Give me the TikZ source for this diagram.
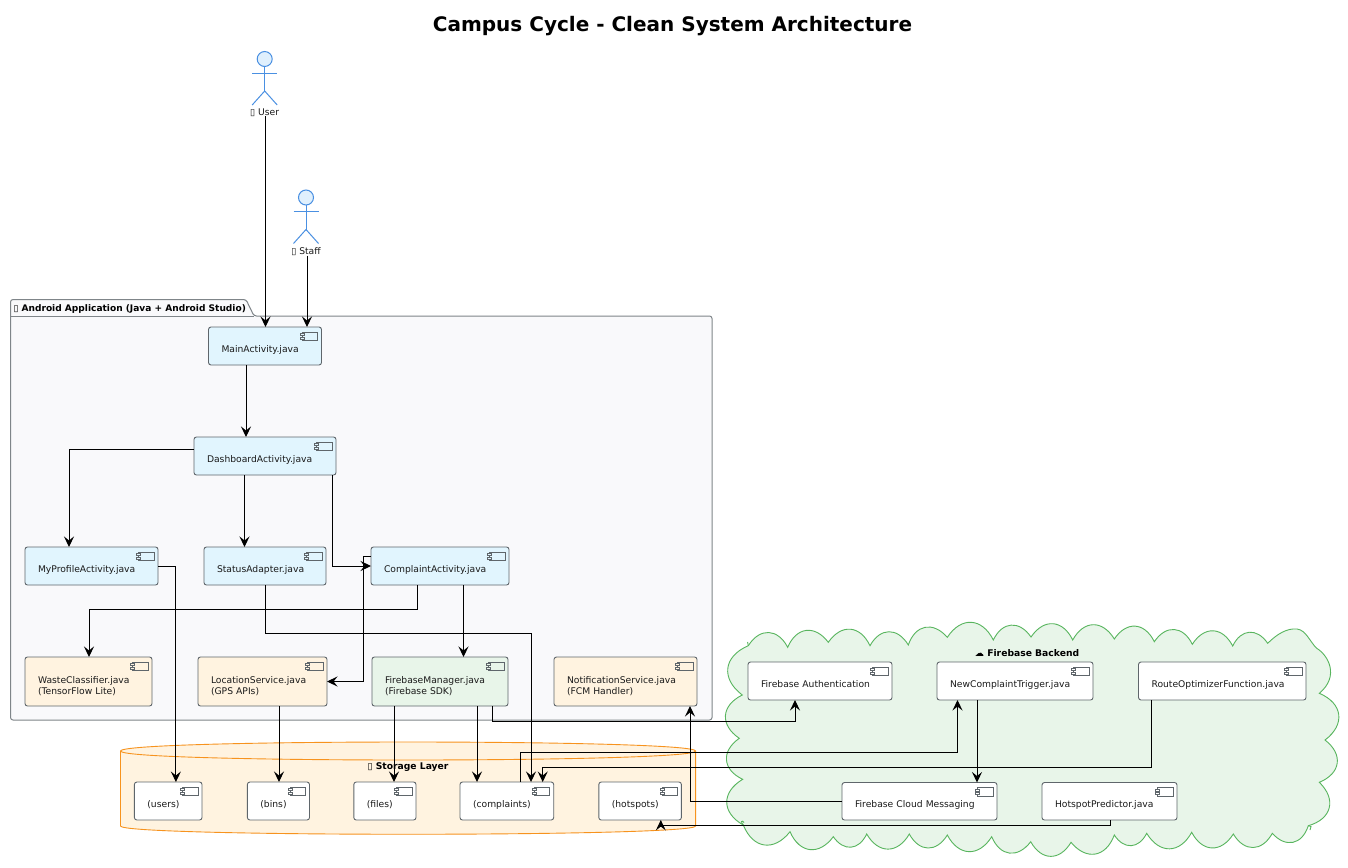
\documentclass[tikz,border=0pt]{standalone}
\usepackage{fontspec}
\setmainfont{DejaVu Sans}
\usetikzlibrary{arrows.meta,calc}
\definecolor{cblue}{HTML}{E1F5FE}
\definecolor{corange}{HTML}{FFF3E0}
\definecolor{cgreen}{HTML}{E8F5E9}
\definecolor{cpack}{HTML}{F9F9FB}
\definecolor{cedge}{HTML}{5F666B}
\definecolor{cactor}{HTML}{4A90E2}
\definecolor{cactorf}{HTML}{E0F0FD}
\definecolor{cstore}{HTML}{F7931E}
\definecolor{ccloud}{HTML}{58B55E}
\definecolor{ctext}{HTML}{1A1A1A}
\tikzset{
  comp/.style={draw=cedge,line width=.9pt,rounded corners=2.5pt,inner xsep=13pt,inner ysep=0pt,outer sep=0pt,
    align=left,text=ctext,font=\fontsize{9.2}{11}\selectfont},
  iconline/.style={draw=cedge,line width=.8pt},
  conn/.style={draw=black,line width=1pt,-{Stealth[length=10.5pt,width=10pt,inset=4pt]}},
  actorline/.style={draw=cactor,line width=1pt},
  lbl/.style={inner sep=0pt,outer sep=0pt,text=ctext,font=\fontsize{9.2}{11}\selectfont},
  blbl/.style={inner sep=0pt,outer sep=0pt,text=black,font=\fontsize{9.2}{11}\selectfont\bfseries},
  cloudline/.style={draw=ccloud,line width=.9pt},
  bump/.style={bend left=60,looseness=1.4}
}
% name, x1, y1, x2, y2, fill, first-line height, text
\newcommand{\comp}[8]{%
  \pgfmathsetmacro{\cw}{#4-#2}\pgfmathsetmacro{\ch}{#5-#3}%
  \pgfmathsetmacro{\cx}{(#2+#4)/2}\pgfmathsetmacro{\cy}{(#3+#5)/2}%
  \pgfmathsetmacro{\ct}{#4-#2-26}%
  \node[comp,fill=#6,minimum width=\cw pt,minimum height=\ch pt,text width=\ct pt] (#1) at (\cx,\cy) {\rule{0pt}{#7pt}#8\rule[-2.3pt]{0pt}{2.3pt}};
  \draw[iconline] ([xshift=-4pt,yshift=-5pt]#1.north east) rectangle ++(-15.5,8.6);
  \draw[iconline,fill=#6] ([xshift=-21.5pt,yshift=-6.5pt]#1.north east) rectangle ++(4,2.2);
  \draw[iconline,fill=#6] ([xshift=-21.5pt,yshift=-10pt]#1.north east) rectangle ++(4,2.2);
}
\newcommand{\actor}[2]{% x, head y
  \draw[actorline,fill=cactorf] (#1,#2) circle (7.5);
  \draw[actorline] (#1,#2+7.5) -- (#1,#2+32);
  \draw[actorline] (#1-12.5,#2+14) -- (#1+12.5,#2+14);
  \draw[actorline] (#1-12.5,#2+46) -- (#1,#2+32) -- (#1+12.5,#2+46);
}
\begin{document}
\begin{tikzpicture}[x=1pt,y=-1pt]
\useasboundingbox (0,0) rectangle (1348,867);
\fill[white] (0,0) rectangle (1348,867);
\node[inner sep=0pt,font=\fontsize{20}{24}\selectfont\bfseries] (title) at (672.5,26.5) {Campus Cycle - Clean System Architecture};

% actors
\actor{264.7}{59}
\node[lbl] (user) at (264.7,112.5) {▯ User};
\actor{306}{197.5}
\node[lbl] (staff) at (306,251.5) {▯ Staff};

% package
\draw[draw=cedge!80,line width=1pt,fill=cpack,rounded corners=2.5pt]
  (10.5,720) -- (10.5,299.5) -- (246,299.5) -- (254,316) -- (712,316) -- (712,720) -- cycle;
\draw[draw=cedge!80,line width=1pt] (10.5,316) -- (254,316);
\node[blbl,anchor=west,font=\fontsize{9.05}{11}\selectfont\bfseries] (packlabel) at (13.5,308.5) {▯ Android Application (Java + Android Studio)};

% storage
\draw[draw=cstore,line width=.9pt,fill=corange]
  (120.5,751) .. controls (120.5,739) and (695.6,739) .. (695.6,751)
  -- (695.6,826) .. controls (695.6,837) and (120.5,837) .. (120.5,826) -- cycle;
\draw[draw=cstore,line width=.9pt] (120.5,751) .. controls (120.5,763) and (695.6,763) .. (695.6,751);
\node[blbl] (storelabel) at (408,767.5) {▯ Storage Layer};

% cloud
\draw[cloudline,fill=cgreen]
  (748.3,645.7) to[bump] (787.7,647.3) to[bump] (828.3,642.3) to[bump] (870,645.7) to[bump] (908.3,645)
  to[bump] (947.3,637.3) to[bump] (993.3,640) to[bump] (1031,637) to[bump] (1072.7,640)
  to[bump] (1114.3,639) to[bump] (1154.3,641.7) to[bump] (1192.3,644.3) to[bump] (1232.7,646)
  to[bump] (1267.7,643.3) .. controls (1277,634) and (1287,628) .. (1297,629)
  .. controls (1306,630) and (1310,642) .. (1316.7,648.3)
  .. controls (1328,655) and (1340,676) .. (1319.3,693.3)
  to[bump] (1325,740) to[bump] (1319.3,782.3)
  to[bump] (1308.3,825.7) to[bump] (1272.3,833.3) to[bump] (1233.3,834) to[bump] (1191.7,832.3)
  to[bump] (1146.7,833.3) to[bump] (1114.3,835) to[bump] (1071,842.3) to[bump] (1030.7,841.7)
  to[bump] (991.7,836.7) to[bump] (947.3,835) to[bump] (909.3,834) to[bump] (866.7,834)
  to[bump] (833.3,836.7) to[bump] (790,831.7) to[bump] (743.3,825)
  to[bump] (742.7,779.3) to[bump] (739.3,738.3) to[bump] (742.3,695) to[bump] (748.3,645.7) -- cycle;
\draw[cloudline] (748.3,645.7) -- (747.6,642);
\draw[cloudline] (743.3,825) .. controls (740,822) and (742,819.5) .. (744,822.5);
\draw[cloudline] (1308.3,825.7) -- (1311,826.5) -- (1310,830);
\node[blbl] (cloudlabel) at (1027,653) {☁ Firebase Backend};

% android components
\comp{main}{208.5}{327}{321.5}{365}{cblue}{14.3}{MainActivity.java}
\comp{dash}{194}{437}{336}{475}{cblue}{14.3}{DashboardActivity.java}
\comp{prof}{25}{547}{158}{585}{cblue}{14.3}{MyProfileActivity.java}
\comp{status}{204}{547}{326}{585}{cblue}{14.3}{StatusAdapter.java}
\comp{cact}{371}{547}{509}{585}{cblue}{14.3}{ComplaintActivity.java}
\comp{waste}{25}{657}{152}{706}{corange}{17.3}{WasteClassifier.java\\(TensorFlow Lite)}
\comp{loc}{198}{657}{327}{706}{corange}{17.3}{LocationService.java\\(GPS APIs)}
\comp{fm}{372}{657}{508}{706}{cgreen}{17.3}{FirebaseManager.java\\(Firebase SDK)}
\comp{notif}{554}{657}{697}{706}{corange}{17.3}{NotificationService.java\\(FCM Handler)}

% storage components
\comp{users}{134.4}{782}{202}{820}{white}{14.3}{(users)}
\comp{bins}{247.4}{782}{309.5}{820}{white}{14.3}{(bins)}
\comp{files}{353.8}{782}{416}{820}{white}{14.3}{(files)}
\comp{compl}{460}{782}{553.7}{820}{white}{14.3}{(complaints)}
\comp{spots}{598.8}{782}{681.4}{820}{white}{14.3}{(hotspots)}

% firebase components
\comp{auth}{748}{662}{892}{700}{white}{14.3}{Firebase Authentication}
\comp{trig}{937}{662}{1093}{700}{white}{14.3}{NewComplaintTrigger.java}
\comp{route}{1138.5}{662}{1306}{700}{white}{14.3}{RouteOptimizerFunction.java}
\comp{fcm}{842}{782.5}{997}{820}{white}{14.3}{Firebase Cloud Messaging}
\comp{hot}{1042}{782.5}{1177}{820}{white}{14.3}{HotspotPredictor.java}

% connectors
\draw[conn] ([xshift=.8pt]user.south) -- ([xshift=.5pt]main.north);
\draw[conn] ([xshift=1pt]staff.south) -- ([xshift=42pt]main.north);
\draw[conn] ([xshift=-19pt]main.south) -- ([xshift=-19pt]dash.north);
\draw[conn] ([yshift=-12.5pt]dash.north west) -| ([xshift=44pt]prof.north west);
\draw[conn] ([xshift=-20.5pt]dash.south) -- ([xshift=-20.5pt]status.north);
\draw[conn] ([xshift=-4pt]dash.south east) |- (cact.west);
\draw[conn] ([yshift=-9.5pt]cact.north west) -- ++(-8,0) |- (loc.east);
\draw[conn] ([xshift=46.5pt]cact.south west) -- ++(0,24) -| ([xshift=64pt]waste.north west);
\draw[conn] ([xshift=23.5pt]cact.south) -- ([xshift=23.5pt]fm.north);
\draw[conn] (prof.east) -| ([xshift=41.5pt]users.north west);
\draw[conn] ([xshift=.5pt]status.south) -- ++(0,48.5) -| ([xshift=71pt]compl.north west);
\draw[conn] ([xshift=16.5pt]loc.south) -- ([xshift=31.6pt]bins.north west);
\draw[conn] ([xshift=22pt]fm.south west) -- ([xshift=40.2pt]files.north west);
\draw[conn] ([xshift=105pt]fm.south west) -- ([xshift=17pt]compl.north west);
\draw[conn] ([xshift=120.5pt]fm.south west) -- ++(0,15) -| ([xshift=47pt]auth.south west);
\draw[conn] ([xshift=60pt]compl.north west) -- ++(0,-30) -| ([xshift=20.5pt]trig.south west);
\draw[conn] ([xshift=13pt]route.south west) -- ++(0,67) -| ([xshift=82.7pt]compl.north west);
\draw[conn] ([yshift=-19pt]fcm.north west) -| ([xshift=136pt]notif.south west);
\draw[conn] ([xshift=68pt]hot.south west) -- ++(0,5.5) -| ([xshift=62pt]spots.south west);
\draw[conn] ([xshift=40pt]trig.south west) -- ([xshift=135pt]fcm.north west);
\end{tikzpicture}
\end{document}
